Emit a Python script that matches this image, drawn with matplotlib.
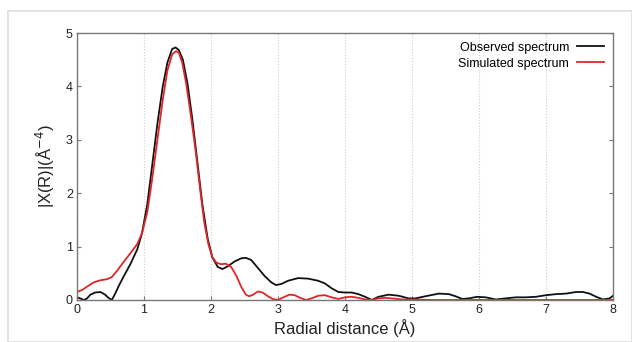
import matplotlib
matplotlib.use("Agg")
import matplotlib.pyplot as plt
from matplotlib.patches import Rectangle

plt.rcParams['font.family'] = ['Liberation Sans', 'DejaVu Sans']

obs_x = [0.0, 0.05, 0.1, 0.15, 0.2, 0.27, 0.35, 0.42, 0.47, 0.52, 0.57, 0.63, 0.7, 0.8, 0.9, 0.97, 1.05, 1.12, 1.2, 1.28, 1.35, 1.42, 1.47, 1.52, 1.58, 1.65, 1.72, 1.8, 1.87, 1.95, 2.02, 2.1, 2.17, 2.25, 2.35, 2.45, 2.52, 2.6, 2.7, 2.8, 2.9, 2.97, 3.05, 3.15, 3.3, 3.45, 3.6, 3.7, 3.8, 3.9, 4.0, 4.1, 4.2, 4.3, 4.4, 4.5, 4.65, 4.8, 4.95, 5.05, 5.2, 5.4, 5.55, 5.65, 5.75, 5.85, 5.97, 6.1, 6.25, 6.4, 6.55, 6.7, 6.85, 7.0, 7.15, 7.3, 7.45, 7.55, 7.65, 7.75, 7.85, 7.95, 8.0]
obs_y = [0.05, 0.03, 0.0, 0.03, 0.1, 0.14, 0.15, 0.1, 0.04, 0.0, 0.12, 0.28, 0.45, 0.68, 0.95, 1.25, 1.8, 2.5, 3.3, 4.0, 4.45, 4.7, 4.73, 4.68, 4.5, 4.05, 3.4, 2.55, 1.8, 1.15, 0.8, 0.62, 0.58, 0.63, 0.72, 0.78, 0.79, 0.75, 0.6, 0.45, 0.33, 0.28, 0.3, 0.36, 0.41, 0.4, 0.36, 0.31, 0.22, 0.15, 0.14, 0.14, 0.11, 0.06, 0.0, 0.06, 0.1, 0.08, 0.03, 0.03, 0.07, 0.12, 0.11, 0.07, 0.02, 0.03, 0.06, 0.05, 0.01, 0.03, 0.05, 0.05, 0.06, 0.09, 0.11, 0.12, 0.15, 0.15, 0.12, 0.06, 0.01, 0.03, 0.08]

sim_x = [0.0, 0.08, 0.15, 0.25, 0.35, 0.45, 0.52, 0.6, 0.7, 0.8, 0.9, 0.97, 1.05, 1.12, 1.2, 1.28, 1.35, 1.42, 1.48, 1.52, 1.57, 1.63, 1.7, 1.77, 1.84, 1.9, 1.96, 2.02, 2.08, 2.15, 2.22, 2.3, 2.38, 2.45, 2.52, 2.57, 2.63, 2.7, 2.77, 2.85, 2.92, 3.0, 3.08, 3.17, 3.25, 3.33, 3.42, 3.5, 3.6, 3.7, 3.8, 3.9, 4.0, 4.1, 4.2, 4.3, 4.4, 4.5, 4.6, 4.7, 4.85, 5.0, 5.3, 5.6, 6.0, 7.0, 8.0]
sim_y = [0.15, 0.19, 0.25, 0.33, 0.37, 0.39, 0.43, 0.55, 0.72, 0.88, 1.05, 1.25, 1.65, 2.25, 3.0, 3.75, 4.3, 4.6, 4.66, 4.63, 4.45, 4.05, 3.45, 2.8, 2.05, 1.45, 1.05, 0.8, 0.7, 0.67, 0.68, 0.62, 0.45, 0.25, 0.1, 0.07, 0.1, 0.16, 0.14, 0.07, 0.02, 0.0, 0.05, 0.1, 0.09, 0.04, 0.0, 0.03, 0.08, 0.09, 0.05, 0.02, 0.05, 0.06, 0.04, 0.01, 0.0, 0.03, 0.04, 0.03, 0.01, 0.01, 0.0, 0.0, 0.0, 0.0, 0.0]

xticks = [0, 1, 2, 3, 4, 5, 6, 7, 8]
yticks = [0, 1, 2, 3, 4, 5]

fig = plt.figure(figsize=(6.32, 3.42), dpi=100)
fig.patches.append(Rectangle((8/632, 0), 1 - 8/632, 1 - 11/342, transform=fig.transFigure,
                             fill=False, edgecolor='#dddddd', linewidth=1.2))
ax = fig.add_axes([77/632, 1 - 300/342, (613 - 77)/632, (300 - 33)/342])

ax.plot(obs_x, obs_y, color='#111111', lw=1.3, label='Observed spectrum')
ax.plot(sim_x, sim_y, color='#e0252a', lw=1.3, label='Simulated spectrum')

ax.set_xlim(0, 8)
ax.set_ylim(0, 5)
ax.set_xticks(xticks)
ax.set_yticks(yticks)
ax.xaxis.grid(True, color='#cccccc', linestyle=':', linewidth=0.8)
ax.tick_params(axis='both', direction='in', length=3, colors='#777777', labelcolor='#222222',
               labelsize=9, right=True, top=False, pad=3)
for s in ax.spines.values():
    s.set_color('#777777')
    s.set_linewidth(1.0)

ax.set_xlabel('Radial distance (Å)', fontsize=12, color='#222222', labelpad=2)
ax.set_ylabel('|X(R)|(Å$^{-4}$)', fontsize=12, color='#222222', labelpad=6)

leg = ax.legend(loc='upper right', frameon=False, markerfirst=False, fontsize=9,
                handlelength=2.2, handletextpad=0.6, borderaxespad=0.3, labelspacing=0.3)

fig.savefig('out.png', dpi=100)
